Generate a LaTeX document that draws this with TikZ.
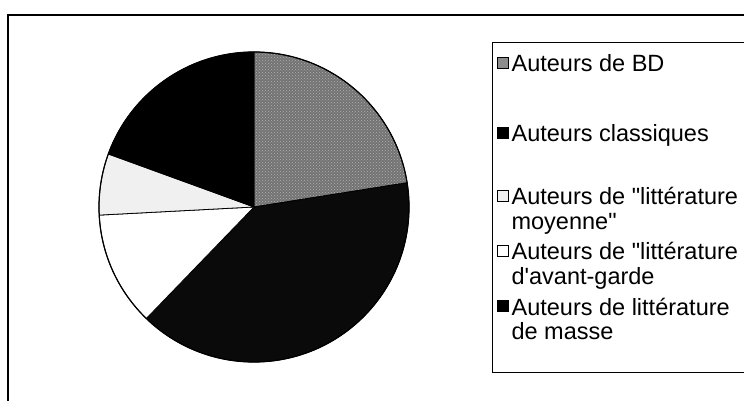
\documentclass[tikz,border=0pt]{standalone}
\usepackage{fontspec}
\setmainfont{Liberation Sans}[Ligatures = TeXOff]
\usetikzlibrary{positioning, patterns}
\tikzstyle{slice} = [draw, 
			line width = 0.8pt]
\tikzstyle{legmark} = [rectangle, 
			draw, 
			line width = 0.8pt, 
			minimum size = 11pt, 
			inner sep = 0pt]
\tikzstyle{legtext} = [inner sep = 0pt, 
			align = left, 
			font = \fontsize{23.5}{24.5}\selectfont]

\begin{document}
\begin{tikzpicture}[x = 1pt, y = 1pt]
	\useasboundingbox (0,0) rectangle (744,401);
	% chart frame and legend frame
	\draw [line width = 1.2pt] (8,0) -- (8,386) -- (744,386);
	\draw [line width = 0.8pt] (744,359) -- (492,359) -- (492,29) -- (744,29);
	% pie
	\coordinate (c) at (254,194);
	\filldraw [slice, fill = black!55] (c) -- ++(9:155) arc [start angle = 9, end angle = 90, radius = 155] -- cycle;
	\fill [pattern = crosshatch dots, pattern color = white!70!black] (c) -- ++(9:155) arc [start angle = 9, end angle = 90, radius = 155] -- cycle;
	\filldraw [slice, fill = black!96] (c) -- ++(-134:155) arc [start angle = -134, end angle = 9, radius = 155] -- cycle;
	\filldraw [slice, fill = white] (c) -- ++(183:155) arc [start angle = 183, end angle = 226, radius = 155] -- cycle;
	\filldraw [slice, fill = black!6] (c) -- ++(160:155) arc [start angle = 160, end angle = 183, radius = 155] -- cycle;
	\filldraw [slice, fill = black] (c) -- ++(90:155) arc [start angle = 90, end angle = 160, radius = 155] -- cycle;
	\draw [line width = 1.2pt] (c) circle [radius = 155];
	% legend
	\node [legmark, fill = black!45] (mkbd) at (502.5,338) {};
	\node [legtext, below right = -8.5pt and 3pt of mkbd.east] (bd) {Auteurs de BD};
	\node [legmark, fill = black] (mkclass) at (502.5,268) {};
	\node [legtext, below right = -8.5pt and 3pt of mkclass.east] (class) {Auteurs classiques};
	\node [legmark, fill = black!6] (mkmoy) at (502.5,205) {};
	\node [legtext, below right = -8.5pt and 3pt of mkmoy.east] (moy) {Auteurs de "littérature\\moyenne"};
	\node [legmark, fill = white] (mkavant) at (502.5,150) {};
	\node [legtext, below right = -8.5pt and 3pt of mkavant.east] (avant) {Auteurs de "littérature\\d'avant-garde};
	\node [legmark, fill = black] (mkmasse) at (502.5,95) {};
	\node [legtext, below right = -8.5pt and 3pt of mkmasse.east] (masse) {Auteurs de littérature\\de masse};
\end{tikzpicture}
\end{document}
